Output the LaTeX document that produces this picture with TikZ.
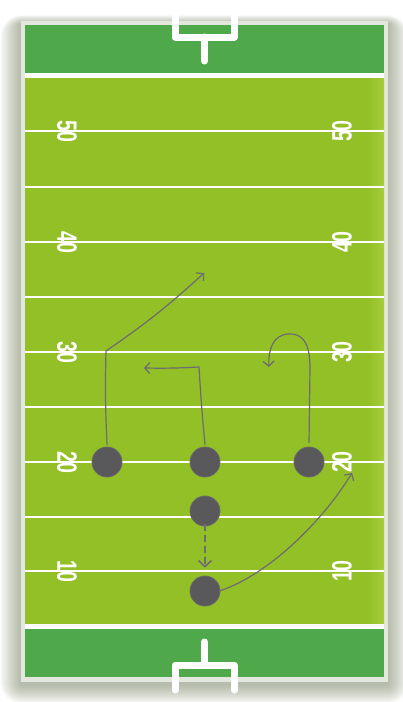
\documentclass[tikz,border=0pt]{standalone}
\usepackage{fontspec}
\newfontfamily\numfont[FakeStretch=0.7]{Liberation Sans}
\usetikzlibrary{arrows.meta}
\definecolor{endzone}{HTML}{4FA94A}
\definecolor{turf}{HTML}{93BF27}
\definecolor{turflight}{HTML}{A6CE3C}
\definecolor{framec}{HTML}{E4E7DD}
\definecolor{shadowc}{HTML}{4F5C33}
\definecolor{playerc}{HTML}{59595B}
\definecolor{routec}{HTML}{6C6C72}
\tikzset{
  yardline/.style={white, line width=2.2pt},
  goalline/.style={white, line width=4.5pt},
  post/.style={white, line width=7pt, line cap=round, line join=round},
  yardnum/.style={white, font=\numfont\bfseries\fontsize{28}{28}\selectfont, inner sep=0pt},
  player/.style={circle, fill=playerc, draw=routec!80!playerc, line width=0.8pt, minimum size=30pt, inner sep=0pt},
  route/.style={routec, line width=1.2pt, line cap=round, line join=round,
    -{Straight Barb[length=5pt,width=11pt,line width=1.2pt]}},
}
\begin{document}
\begin{tikzpicture}[x=1pt,y=-1pt]
\useasboundingbox (0,0) rectangle (402,702);
% shadow
\foreach \i in {1,...,22}{
  \fill[shadowc, opacity=0.022, rounded corners=\i pt] (21-\i*0.95,21-\i*0.4+3) rectangle (388+\i*0.95,682+\i*0.85+3);
}
% frame
\fill[framec] (21,21) rectangle (388,682);
% end zones
\fill[endzone] (25,25) rectangle (384,73);
\fill[endzone] (25,629) rectangle (384,677);
% field
\fill[turf] (25,73) rectangle (384,629);
\shade[left color=turf, right color=turflight] (368,78) rectangle (384,624);
\draw[goalline] (25,75.5) -- (384,75.5);
\draw[goalline] (25,626.5) -- (384,626.5);
% yard lines
\foreach \y in {131,187,242,297,352,407,462,517,571}{
  \draw[yardline] (25,\y) -- (384,\y);
}
% numbers
\foreach \y/\n in {131/50,242/40,352/30,462/20,571/10}{
  \node[yardnum, rotate=-90] (L\n) at (67,\y) {\n};
  \node[yardnum, rotate=90] (R\n) at (342,\y) {\n};
}
% goal posts
\draw[post] (175,12) -- (175,37) -- (234,37) -- (234,12);
\draw[post] (204.5,37) -- (204.5,61);
\draw[post] (175,690) -- (175,665) -- (234,665) -- (234,690);
\draw[post] (204.5,665) -- (204.5,642);
% players
\node[player] (p1) at (107,462) {};
\node[player] (p2) at (205,462) {};
\node[player] (p3) at (309,462) {};
\node[player] (p4) at (205,511) {};
\node[player] (p5) at (205,591) {};
% route coordinates
\coordinate (c1) at (106,351);
\coordinate (t1) at (204,273);
\coordinate (c2) at (199,367);
\coordinate (t2) at (144,368);
\coordinate (c3) at (310,368);
\coordinate (k3) at (288,334);
\coordinate (t3) at (269,367);
\coordinate (t5) at (352,473);
% routes
\draw[route] ([yshift=2pt]p1.north) to[bend left=2] (c1) to[bend right=4] (t1);
\draw[route] ([yshift=2pt]p2.north) to[bend left=1] (c2) to[bend left=2] (t2);
\draw[route] ([yshift=4pt]p3.north) -- (c3) .. controls (310,342) and (302,333) .. (k3) .. controls (273,335) and (268,350) .. (t3);
\draw[route, dash pattern=on 6pt off 5pt, shorten >=8pt, line width=1.6pt, -{Straight Barb[length=6pt,width=13pt,line width=1.6pt]}] ([yshift=2pt]p4.south) -- (p5.north);
\draw[route] ([xshift=-1pt]p5.east) .. controls (268,575) and (322,522) .. (t5);
\end{tikzpicture}
\end{document}
